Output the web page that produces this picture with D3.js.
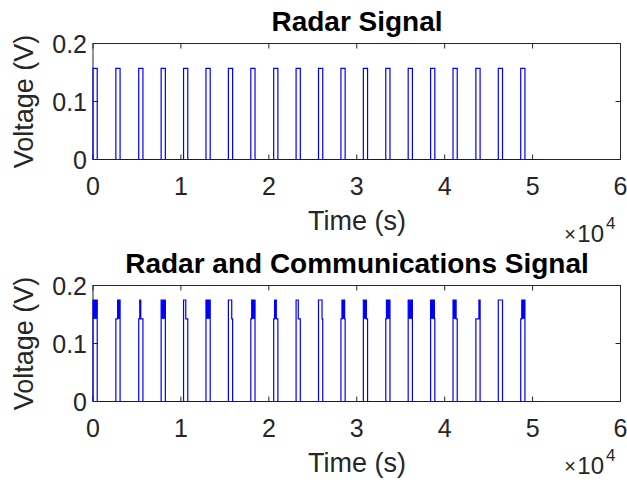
<!DOCTYPE html>
<html lang="en">
<head>
  <meta charset="utf-8">
  <title>Radar Signal</title>
  <script src="https://d3js.org/d3.v7.min.js"></script>
  <style type="text/css">
    body { margin: 0; background: #fff; }
    text { font-family: "Liberation Sans", Arial, Helvetica, sans-serif; fill: #262626; }
  </style>
</head>
<body>
  <script type="text/javascript">

// pulse start times (s)
const pulseStart = [0, 2600, 5200, 7750, 10300, 12850, 15400, 17950, 20550, 23100,
                    25650, 28200, 30750, 33300, 35850, 38400, 40950, 43550, 46100, 48650];
const pulseWidth = 480;
const signalEnd = 51100;
const radarLevel = 0.157;

// radar + comms: radar part level and comms burst level
const baseLevel = 0.1425;
const commLevel = 0.175;
// burst start / end inside each pulse (s from pulse start), dense = fast toggling
const burstOn  = [0, 200, 120, 0, 0, 0, 0, 100, 100, 0, 0, 120, 0, 80, 0, 0, 0, 350, 0, 120];
const burstOff = [480, 480, 230, 480, 250, 480, 380, 480, 300, 250, 400, 420, 350, 480, 480, 430, 350, 480, 480, 480];
const burstDense = [1, 1, 1, 1, 0, 1, 0, 1, 1, 0, 0, 1, 1, 1, 1, 1, 1, 1, 0, 1];

const xTicks = [0, 1, 2, 3, 4, 5, 6];
const yTicks = [0, 0.1, 0.2];

const width = 627, height = 483;
const svg = d3.select("body").append("svg")
    .attr("width", width)
    .attr("height", height);

const x = d3.scaleLinear().domain([0, 60000]).range([93, 620.5]);

function drawAxes(top, title, expY) {
  const y = d3.scaleLinear().domain([0, 0.2]).range([top + 116, top]);
  const g = svg.append("g");

  // box
  g.append("rect")
      .attr("x", x(0)).attr("y", y(0.2))
      .attr("width", x(60000) - x(0)).attr("height", y(0) - y(0.2))
      .attr("fill", "none").attr("stroke", "#262626").attr("stroke-width", 1);

  // x ticks, inward, top and bottom
  xTicks.forEach(t => {
    const px = x(t * 1e4);
    g.append("line").attr("x1", px).attr("x2", px).attr("y1", y(0)).attr("y2", y(0) - 5)
        .attr("stroke", "#262626");
    g.append("line").attr("x1", px).attr("x2", px).attr("y1", y(0.2)).attr("y2", y(0.2) + 5)
        .attr("stroke", "#262626");
    g.append("text")
        .attr("x", px).attr("y", y(0) + 35)
        .attr("text-anchor", "middle")
        .style("font-size", "25px")
        .text(t);
  });

  yTicks.forEach(t => {
    const py = y(t);
    g.append("line").attr("x1", x(0)).attr("x2", x(0) + 5).attr("y1", py).attr("y2", py)
        .attr("stroke", "#262626");
    g.append("line").attr("x1", x(60000)).attr("x2", x(60000) - 5).attr("y1", py).attr("y2", py)
        .attr("stroke", "#262626");
    g.append("text")
        .attr("x", x(0) - 6).attr("y", py + 9)
        .attr("text-anchor", "end")
        .style("font-size", "25px")
        .text(t === 0 ? "0" : t.toFixed(1));
  });

  g.append("text")
      .attr("x", 357).attr("y", y(0) + 70)
      .attr("text-anchor", "middle")
      .style("font-size", "27px")
      .text("Time (s)");

  // exponent label
  g.append("text")
      .attr("x", 576).attr("y", expY)
      .attr("text-anchor", "end")
      .style("font-size", "20px")
      .text("\u00d7");
  g.append("text")
      .attr("x", 604).attr("y", expY + 1)
      .attr("text-anchor", "end")
      .style("font-size", "24px")
      .text("10");
  g.append("text")
      .attr("x", 606).attr("y", expY - 12)
      .style("font-size", "17px")
      .text("4");

  g.append("text")
      .attr("transform", `translate(33, ${(y(0) + y(0.2)) / 2}) rotate(-90)`)
      .attr("text-anchor", "middle")
      .style("font-size", "27px")
      .text("Voltage (V)");

  g.append("text")
      .attr("x", 357).attr("y", top - 13)
      .attr("text-anchor", "middle")
      .style("font-size", "28px")
      .style("font-weight", "bold")
      .style("fill", "#000")
      .text(title);

  return { g, y };
}

const line = d3.line();

// top: radar signal
const a1 = drawAxes(43.5, "Radar Signal", 241);
const radarPts = [];
pulseStart.forEach(s => {
  radarPts.push([s, 0], [s, radarLevel], [s + pulseWidth, radarLevel], [s + pulseWidth, 0]);
});
radarPts.push([signalEnd, 0]);
a1.g.append("path")
    .attr("d", line(radarPts.map(p => [x(p[0]), a1.y(p[1])])))
    .attr("fill", "none")
    .attr("stroke", "#0000ff")
    .attr("stroke-width", 1.2);

// bottom: radar and communications
const a2 = drawAxes(285.5, "Radar and Communications Signal", 473);
const combPts = [];
pulseStart.forEach((s, i) => {
  combPts.push([s, 0], [s, baseLevel],
               [s + burstOn[i], baseLevel], [s + burstOn[i], commLevel],
               [s + burstOff[i], commLevel], [s + burstOff[i], baseLevel],
               [s + pulseWidth, baseLevel], [s + pulseWidth, 0]);
});
combPts.push([signalEnd, 0]);

a2.g.selectAll("rect.burst")
    .data(pulseStart.map((s, i) => ({ s, i })).filter(d => burstDense[d.i]))
    .enter()
    .append("rect")
    .attr("class", "burst")
    .attr("x", d => x(d.s + burstOn[d.i]))
    .attr("width", d => x(d.s + burstOff[d.i]) - x(d.s + burstOn[d.i]))
    .attr("y", a2.y(commLevel))
    .attr("height", a2.y(baseLevel) - a2.y(commLevel))
    .attr("fill", "#0000ff");

a2.g.append("path")
    .attr("d", line(combPts.map(p => [x(p[0]), a2.y(p[1])])))
    .attr("fill", "none")
    .attr("stroke", "#0000ff")
    .attr("stroke-width", 1.2);

  </script>
</body>
</html>
